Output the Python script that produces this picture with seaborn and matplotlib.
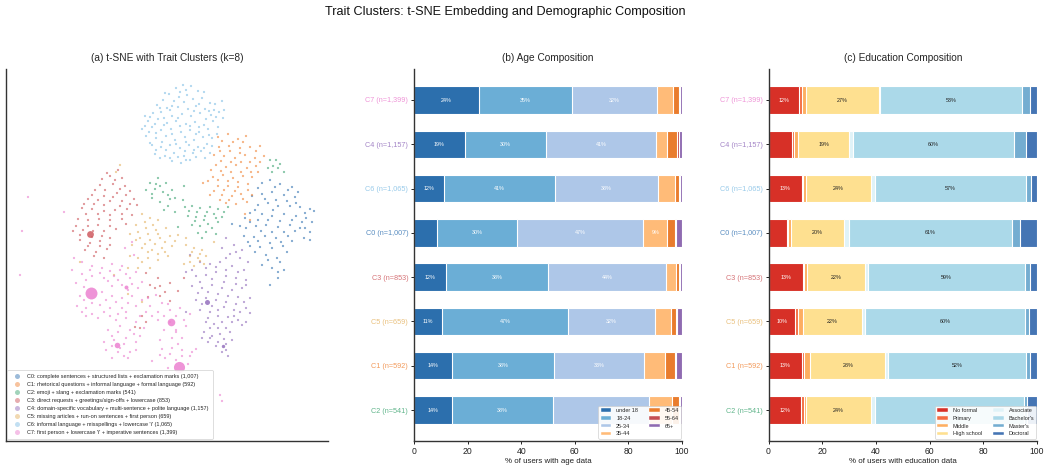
import numpy as np
import pandas as pd
import matplotlib
matplotlib.use("Agg")
import matplotlib.pyplot as plt
from matplotlib.patches import Patch
from matplotlib.lines import Line2D
import seaborn as sns

# Cluster order, top to bottom
clusters = ["C7", "C4", "C6", "C0", "C3", "C5", "C1", "C2"]
cluster_n = ["1,399", "1,157", "1,065", "1,007", "853", "659", "592", "541"]

# Age composition (%)
age_groups = ["under 18", "18-24", "25-34", "35-44", "45-54", "55-64", "65+"]
age_under18 = [24.3, 19.0, 11.3, 8.7, 12.0, 10.5, 14.0, 14.0]
age_18_24 = [34.7, 30.4, 41.4, 29.9, 38.0, 47.1, 38.4, 37.9]
age_25_34 = [31.7, 40.8, 38.3, 47.1, 44.3, 32.2, 33.3, 35.8]
age_35_44 = [5.8, 4.1, 6.3, 9.0, 3.5, 6.1, 7.8, 8.5]
age_45_54 = [2.5, 4.0, 1.5, 2.9, 1.3, 1.7, 3.9, 2.6]
age_55_64 = [0.3, 0.6, 0.4, 0.2, 0.2, 0.7, 0.2, 0.4]
age_65p = [0.7, 1.1, 0.8, 2.4, 0.9, 1.7, 2.4, 0.8]
age_labels = [[24, 35, 32, None], [19, 30, 41, None], [12, 41, 38, None], [None, 30, 47, 9],
              [12, 38, 44, None], [11, 47, 32, None], [14, 38, 33, None], [14, 38, None, None]]

# Education composition (%)
edu_groups = ["No formal", "Primary", "Middle", "High school", "Associate", "Bachelor's", "Master's", "Doctoral"]
edu_none = [11.4, 8.7, 12.4, 6.8, 12.9, 9.9, 12.5, 12.2]
edu_primary = [0.9, 0.9, 0.6, 0.4, 0.4, 1.1, 0.9, 1.0]
edu_middle = [1.7, 1.4, 1.0, 1.0, 1.1, 1.9, 2.2, 0.7]
edu_high = [27.2, 19.0, 24.1, 20.0, 21.6, 22.0, 27.9, 24.1]
edu_assoc = [0.5, 1.3, 1.4, 1.6, 0.9, 1.1, 1.0, 1.6]
edu_bach = [52.7, 60.0, 56.5, 60.8, 58.5, 59.7, 51.5, 55.4]
edu_master = [3.0, 4.7, 1.9, 2.9, 2.1, 1.4, 1.5, 1.4]
edu_doc = [2.6, 4.0, 2.1, 6.5, 2.5, 2.9, 2.5, 3.6]
edu_labels = [[12, None, None, 27, None, 53], [None, None, None, 19, None, 60], [13, None, None, 24, None, 57],
              [None, None, None, 20, None, 61], [13, None, None, 22, None, 59], [10, None, None, 22, None, 60],
              [13, None, None, 28, None, 52], [12, None, None, 24, None, None]]

# t-SNE points: a hand-read sample of the visible cloud (not every point), in picture-based units
C6_pts = [(183,85),(176,88),(191,86),(169,94),(180,92),(187,95),(198,91),(163,100),(174,101),(184,102),(193,99),(202,98),(210,103),(157,105),(167,108),(178,107),(188,109),(196,106),(205,109),(215,104),(222,101),(153,113),(161,112),(172,116),(182,114),(191,116),(200,113),(211,115),(219,112),(148,121),(158,119),(167,123),(176,121),(186,124),(195,122),(204,125),(213,121),(223,118),(142,129),(152,127),(161,130),(171,129),(181,132),(190,130),(199,132),(208,129),(218,127),(146,136),(156,138),(166,136),(175,140),(185,137),(194,140),(203,137),(212,138),(152,145),(161,147),(170,145),(180,148),(189,145),(198,147),(207,144),(155,154),(165,156),(174,153),(184,156),(193,153),(201,151),(172,161),(181,163),(190,160),(160,158),(205,158),(210,153),
          (179,97),(186,90),(172,106),(160,108),(150,117),(145,126),(155,124),(164,118),(170,110),(178,118),(194,111),(206,119),(216,117),(224,110),(209,111),(164,125),(156,133),(149,132),(162,142),(172,134),(180,126),(190,126),(199,127),(209,135),(217,134),(196,134),(186,142),(176,144),(166,150),(156,150),(185,151),(194,150),(204,148),(212,146),(170,158),(178,157),(196,157),(186,160),(150,143),(145,116),(199,104),(214,110),(204,92),(165,93)]
C1_pts = [(218,137),(228,134),(238,139),(246,136),(260,146),(250,147),(240,148),(229,146),(219,147),(214,155),(224,156),(235,158),(245,155),(255,158),(264,156),(216,165),(226,167),(236,165),(247,168),(256,166),(213,177),(223,175),(233,178),(243,176),(252,177),(208,181),(218,186),(228,186),(238,187),(248,184),(222,195),(232,196),(241,194),(247,202),(226,203),(236,204),(245,214),(250,220),(203,183),(258,172),
          (222,141),(233,142),(243,142),(256,151),(220,151),(230,151),(240,153),(250,162),(260,162),(221,161),(231,162),(241,162),(211,170),(221,171),(231,172),(241,172),(251,172),(218,180),(228,181),(238,182),(248,190),(214,191),(224,190),(235,191),(243,199),(229,200),(220,200),(252,195),(210,195)]
C2_pts = [(150,183),(158,178),(166,183),(172,190),(146,190),(155,189),(163,192),(170,199),(152,198),(160,202),(168,206),(175,212),(184,186),(183,200),(185,207),(192,206),(200,208),(210,207),(218,209),(188,216),(196,217),(205,216),(214,214),(224,212),(192,225),(200,226),(208,224),(218,222),(198,233),(206,232),(216,234),(270,160),(276,160),(280,164),(273,166),(272,172),(284,172),(178,227),
          (152,194),(160,186),(168,195),(156,184),(175,198),(164,210),(189,211),(197,212),(207,212),(216,218),(195,221),(204,220),(212,228),(202,238),(222,217),(228,207),(268,168),(278,168)]
C3_pts = [(118,170),(110,176),(122,178),(102,179),(113,184),(125,186),(95,190),(105,190),(117,193),(130,191),(88,199),(98,200),(110,201),(122,201),(134,199),(82,208),(92,209),(104,211),(115,210),(127,209),(137,205),(78,219),(88,220),(99,219),(110,220),(122,219),(132,215),(73,231),(83,230),(93,231),(104,231),(116,229),(126,224),(80,240),(90,243),(100,241),(110,238),(85,250),(96,252),(107,249),(104,258),(146,273),(158,278),(170,283),(178,291),(148,297),(160,296),(170,301),(146,322),(140,328),(135,327),(160,286),(184,278),
          (107,173),(115,180),(120,189),(100,185),(92,195),(104,196),(113,197),(126,195),(84,204),(94,204),(104,205),(120,206),(130,204),(86,214),(98,214),(110,215),(122,214),(76,226),(88,226),(98,225),(110,226),(80,235),(92,237),(102,236),(88,246),(100,246),(110,245),(94,256),(155,288),(165,292),(150,285),(142,316)]
C0_pts = [(262,183),(270,180),(280,184),(292,187),(252,196),(262,194),(272,192),(284,195),(295,197),(258,205),(268,203),(278,206),(290,206),(300,207),(310,209),(250,213),(262,214),(272,216),(284,214),(296,216),(306,218),(314,211),(246,228),(256,226),(266,225),(278,227),(290,225),(300,228),(310,232),(244,236),(254,237),(265,236),(276,238),(288,236),(304,238),(250,246),(260,247),(272,248),(283,246),(266,255),(277,258),(287,252),(262,265),(272,268),(278,272),(284,270),(278,278),(232,224),(240,226),(270,285),
          (258,188),(275,187),(288,190),(298,192),(265,199),(276,200),(287,201),(255,210),(273,210),(296,203),(305,213),(258,220),(268,220),(280,221),(292,220),(302,222),(312,222),(250,222),(261,231),(272,232),(284,232),(295,231),(305,228),(248,242),(258,241),(270,243),(281,242),(292,241),(255,252),(268,260),(280,262),(245,218),(310,240)]
C5_pts = [(142,214),(150,218),(158,220),(136,225),(146,228),(156,230),(166,228),(130,234),(140,238),(150,240),(160,238),(170,236),(178,235),(132,245),(142,248),(152,250),(162,248),(172,246),(138,258),(148,258),(158,260),(168,256),(186,245),(194,248),(202,250),(190,256),(198,258),(206,256),(184,264),(194,266),(204,264),(128,268),(116,172),(120,165),(114,275),(80,262),(138,268),(150,268),(142,302),(128,294),(186,238),(214,242),
          (145,222),(153,225),(138,232),(148,234),(158,234),(165,242),(136,240),(145,244),(155,244),(148,252),(158,254),(165,252),(192,252),(200,254),(190,262),(200,261),(130,256),(142,262),(175,241)]
C4_pts = [(226,238),(234,245),(242,250),(222,248),(230,254),(240,258),(248,262),(190,255),(200,262),(210,264),(220,262),(232,266),(244,270),(186,272),(196,276),(206,275),(216,272),(226,276),(236,278),(246,280),(192,286),(202,288),(212,285),(222,288),(232,290),(242,288),(250,298),(196,300),(206,298),(216,300),(226,302),(236,304),(246,308),(200,310),(210,312),(218,310),(240,312),(250,313),(234,316),(206,322),(214,324),(222,322),(232,322),(242,325),(204,332),(212,336),(220,334),(230,332),(208,342),(216,346),(226,344),(232,340),(222,352),(228,356),(202,338),(186,312),(246,322),
          (236,252),(226,258),(206,268),(216,267),(226,270),(238,272),(192,270),(200,282),(212,279),(224,282),(236,284),(246,285),(198,293),(208,292),(218,294),(228,296),(238,297),(202,304),(212,306),(224,307),(234,310),(244,302),(208,318),(218,316),(228,317),(238,320),(210,328),(218,328),(226,328),(210,338),(224,339),(218,342),(226,350)]
C7_pts = [(132,242),(125,248),(134,255),(74,258),(82,262),(92,266),(102,268),(112,264),(122,266),(72,270),(82,274),(92,276),(104,278),(114,276),(126,274),(136,272),(76,283),(86,280),(112,286),(122,285),(132,284),(142,282),(80,296),(102,292),(112,296),(122,298),(132,296),(148,298),(156,295),(77,306),(86,308),(100,305),(110,308),(122,308),(136,306),(150,306),(162,303),(92,314),(104,312),(86,316),(118,314),(146,312),(158,312),(170,310),(180,308),(116,320),(126,318),(136,322),(158,320),(170,322),(184,320),(108,330),(118,332),(130,330),(144,328),(164,330),(176,330),(186,326),(104,342),(114,340),(124,344),(136,342),(176,332),(106,350),(118,352),(130,352),(112,358),(128,358),(162,349),(172,348),(182,350),(192,352),(165,358),(176,360),(190,356),(196,349),(152,361),(168,368),(188,364),(22,231),(28,197),(20,275),(64,212),(220,395),(222,401),
          (90,270),(100,273),(110,271),(120,270),(130,278),(84,287),(108,281),(118,280),(138,288),(128,290),(106,300),(116,302),(128,303),(142,300),(84,300),(92,303),(82,312),(98,318),(110,316),(126,312),(140,316),(152,316),(164,316),(176,316),(190,314),(168,304),(120,326),(134,334),(112,336),(126,338),(140,336),(172,338),(182,338),(160,340),(120,348),(112,346),(136,350),(124,356),(170,354),(182,356),(160,355),(178,344)]

big_cluster = ["C3", "C7", "C7", "C7", "C7", "C7", "C4", "C4"]
big_x = [90.5, 91.5, 179.5, 171, 117.5, 126, 207, 223.5]
big_y = [234.5, 293, 367, 322.5, 345.5, 287, 302.5, 346.5]
big_size = [24, 74, 64, 30, 16, 8, 13, 6]

cluster_descr = [
    "C0: complete sentences + structured lists + exclamation marks (1,007)",
    "C1: rhetorical questions + informal language + formal language (592)",
    "C2: emoji + slang + exclamation marks (541)",
    "C3: direct requests + greetings/sign-offs + lowercase (853)",
    "C4: domain-specific vocabulary + multi-sentence + polite language (1,157)",
    "C5: missing articles + run-on sentences + first person (659)",
    "C6: informal language + misspellings + lowercase 'i' (1,065)",
    "C7: first person + lowercase 'i' + imperative sentences (1,399)",
]

cluster_colors = {"C0": "#3b78b5", "C1": "#f0883e", "C2": "#45a877", "C3": "#cf5b60",
                  "C4": "#9470bd", "C5": "#e5b566", "C6": "#86c1e6", "C7": "#ec82d0"}
age_colors = ["#2c6fad", "#6baed6", "#aec7e8", "#ffbb78", "#e97c2d", "#c44e52", "#8f6bb1"]
edu_colors = ["#d73027", "#f46d43", "#fdae61", "#fee090", "#e0f3f8", "#abd9e9", "#74add1", "#4575b4"]

sns.set_theme(style="ticks")
plt.rcParams["font.family"] = ["Liberation Sans", "DejaVu Sans"]
fig = plt.figure(figsize=(10.44, 4.65), dpi=100)
W, H = 1044, 465


def make_ax(x0, x1, y0, y1):
    return fig.add_axes([x0 / W, 1 - y1 / H, (x1 - x0) / W, (y1 - y0) / H])


ax_a = make_ax(6, 328, 69, 441)
ax_b = make_ax(414, 682, 69, 441)
ax_c = make_ax(768.5, 1037, 69, 441)

# Panel (a)
tsne_sets = {"C0": C0_pts, "C1": C1_pts, "C2": C2_pts, "C3": C3_pts,
             "C4": C4_pts, "C5": C5_pts, "C6": C6_pts, "C7": C7_pts}
tsne = pd.DataFrame([(k, x, y) for k, pts in tsne_sets.items() for x, y in pts],
                    columns=["cluster", "x", "y"])
sns.scatterplot(data=tsne, x="x", y="y", hue="cluster", palette=cluster_colors, s=2.6,
                alpha=0.65, linewidth=0, legend=False, ax=ax_a)
big = pd.DataFrame({"cluster": big_cluster, "x": big_x, "y": big_y, "size": big_size})
for _, row in big.iterrows():
    ax_a.scatter(row["x"], row["y"], s=row["size"], color=cluster_colors[row["cluster"]],
                 alpha=0.85, linewidth=0, zorder=3)
ax_a.set_xlim(6, 328)
ax_a.set_ylim(441, 69)
ax_a.set(xlabel="", ylabel="", xticks=[], yticks=[])
ax_a.set_title("(a) t-SNE with Trait Clusters (k=8)", fontsize=7.25, pad=6)
handles = [Line2D([], [], marker="o", ls="", ms=3.6, mfc=cluster_colors[f"C{i}"], mec="none", alpha=0.5)
           for i in range(8)]
leg = ax_a.legend(handles, cluster_descr, loc="lower left", bbox_to_anchor=(0.002, 0.002), fontsize=3.95,
                  frameon=True, borderpad=0.75, labelspacing=0.55, handletextpad=0.8, framealpha=0.9,
                  borderaxespad=0.15)
leg.get_frame().set_linewidth(0.5)
leg.set_zorder(5)


def stacked(ax, series, colors, names, labels, dark_text, xlabel, title):
    frame = pd.DataFrame(np.array(series).T, columns=names)
    frame.insert(0, "cluster", clusters)
    cum = frame[names].cumsum(axis=1)
    cum = cum.div(cum[names[-1]], axis=0) * 100
    cum["cluster"] = clusters
    for name, color in reversed(list(zip(names, colors))):
        sns.barplot(data=cum, y="cluster", x=name, order=clusters, color=color, saturation=1,
                    width=0.62, edgecolor="white", linewidth=0.8, ax=ax)
    starts = cum[names].to_numpy()
    for i, row in enumerate(labels):
        for j, v in enumerate(row):
            if v is None:
                continue
            left = starts[i, j - 1] if j else 0
            ax.text((left + starts[i, j]) / 2, i, f"{v}%", ha="center", va="center", fontsize=3.9,
                    color="#222222" if j in dark_text else "white", zorder=4)
    ax.set_xlim(0, 100)
    ax.set_ylim(7.7, -0.7)
    ax.set_xticks([0, 20, 40, 60, 80, 100])
    ax.set_yticks(range(8))
    ax.set_yticklabels([f"{c} (n={n})" for c, n in zip(clusters, cluster_n)])
    for lab, c in zip(ax.get_yticklabels(), clusters):
        lab.set_color(cluster_colors[c])
        lab.set_alpha(0.85)
    ax.tick_params(axis="x", labelsize=6.2, length=2.5, width=0.7, pad=2, color="#222222", labelcolor="#222222")
    ax.tick_params(axis="y", labelsize=5.2, length=2.0, width=0.7, pad=2.2, color="#222222")
    ax.set_xlabel(xlabel, fontsize=5.7, labelpad=1.6, color="#222222")
    ax.set_ylabel("")
    ax.set_title(title, fontsize=7.25, pad=6)
    hs = [Patch(facecolor=c, edgecolor="white", linewidth=0.3, label=n) for c, n in zip(colors, names)]
    lg = ax.legend(handles=hs, ncol=2, loc="lower right", bbox_to_anchor=(1.0, 0.005), fontsize=4.0,
                   frameon=True, framealpha=0.9, borderpad=0.4, labelspacing=0.5, handlelength=1.9,
                   handleheight=0.55, columnspacing=2.0, handletextpad=0.9, borderaxespad=0.1)
    lg.get_frame().set_linewidth(0.5)
    lg.set_zorder(5)


stacked(ax_b, [age_under18, age_18_24, age_25_34, age_35_44, age_45_54, age_55_64, age_65p], age_colors,
        age_groups, age_labels, [], "% of users with age data", "(b) Age Composition")
stacked(ax_c, [edu_none, edu_primary, edu_middle, edu_high, edu_assoc, edu_bach, edu_master, edu_doc], edu_colors,
        edu_groups, edu_labels, [3, 5], "% of users with education data", "(c) Education Composition")

for ax in (ax_a, ax_b, ax_c):
    sns.despine(ax=ax)
    for s in ("left", "bottom"):
        ax.spines[s].set_linewidth(1.0)
        ax.spines[s].set_color("#333333")

fig.text(505 / W, 1 - 11.5 / H, "Trait Clusters: t-SNE Embedding and Demographic Composition",
         fontsize=9.1, ha="center", va="center", color="#111111")
fig.savefig("out.png", dpi=100)
